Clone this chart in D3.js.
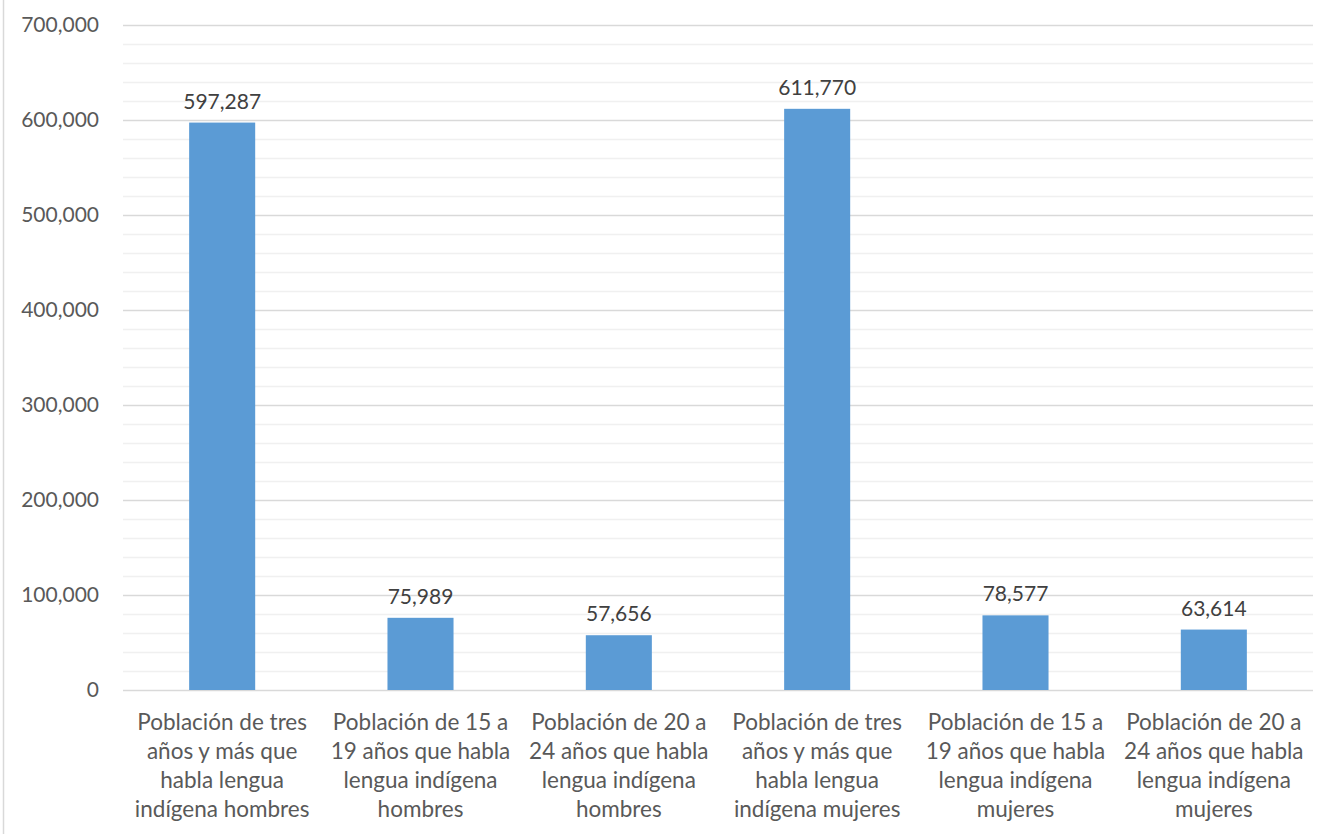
<!DOCTYPE html>
<html>
<head>
<meta charset="utf-8">
<script src="https://cdn.jsdelivr.net/npm/d3@7"></script>
<style>
  html, body { margin: 0; padding: 0; background: #fff; }
  svg { display: block; }
  text { font-family: Lato, "Open Sans", sans-serif; }
</style>
</head>
<body>
<svg id="chart" width="1326" height="834"></svg>
<script>
// Población que habla lengua indígena, por grupo de edad y sexo
const categories = [
  ["Población de tres", "años y más que", "habla lengua", "indígena hombres"],
  ["Población de 15 a", "19 años que habla", "lengua indígena", "hombres"],
  ["Población de 20 a", "24 años que habla", "lengua indígena", "hombres"],
  ["Población de tres", "años y más que", "habla lengua", "indígena mujeres"],
  ["Población de 15 a", "19 años que habla", "lengua indígena", "mujeres"],
  ["Población de 20 a", "24 años que habla", "lengua indígena", "mujeres"]
];
const values = [597287, 75989, 57656, 611770, 78577, 63614];
const majorTicks = [0, 100000, 200000, 300000, 400000, 500000, 600000, 700000];
const minorTicks = d3.range(0, 700001, 20000);

const svg = d3.select("#chart");
const W = 1326, H = 834;
const plot = { left: 123, right: 1313, top: 25, bottom: 690 };

const x = d3.scaleBand()
  .domain(d3.range(categories.length))
  .range([plot.left, plot.right])
  .paddingInner(0.667)
  .paddingOuter(0.3335);

const y = d3.scaleLinear()
  .domain([0, 700000])
  .range([plot.bottom, plot.top]);

const fmt = d3.format(",");

// chart frame line on the left
svg.append("line")
  .attr("x1", 3.5).attr("x2", 3.5)
  .attr("y1", 0).attr("y2", H)
  .attr("stroke", "#d9d9d9").attr("stroke-width", 1.5);

// minor gridlines
svg.append("g")
  .selectAll("line")
  .data(minorTicks.filter(v => v % 100000 !== 0))
  .join("line")
  .attr("x1", plot.left).attr("x2", plot.right)
  .attr("y1", d => Math.round(y(d)) + 0.5)
  .attr("y2", d => Math.round(y(d)) + 0.5)
  .attr("stroke", "#f0f0f0").attr("stroke-width", 1.5);

// major gridlines + y axis labels
const yAxis = d3.axisLeft(y)
  .tickValues(majorTicks)
  .tickFormat(d => fmt(d))
  .tickSize(-(plot.right - plot.left))
  .tickPadding(24);

const gy = svg.append("g")
  .attr("transform", `translate(${plot.left},0)`)
  .call(yAxis);
gy.select(".domain").remove();
gy.selectAll(".tick line")
  .attr("stroke", "#d9d9d9").attr("stroke-width", 1.5);
gy.selectAll(".tick text")
  .attr("fill", "#595959")
  .attr("font-size", 21)
  .attr("font-family", "Lato, 'Open Sans', sans-serif");

// bars
svg.append("g")
  .selectAll("rect")
  .data(values)
  .join("rect")
  .attr("x", (d, i) => x(i))
  .attr("width", x.bandwidth())
  .attr("y", d => y(d))
  .attr("height", d => y(0) - y(d))
  .attr("fill", "#5b9bd5");

// data labels
svg.append("g")
  .selectAll("text")
  .data(values)
  .join("text")
  .attr("x", (d, i) => x(i) + x.bandwidth() / 2)
  .attr("y", d => y(d) - 14)
  .attr("text-anchor", "middle")
  .attr("fill", "#404040")
  .attr("font-size", 21)
  .text(d => fmt(d));

// category labels
const catG = svg.append("g")
  .selectAll("text")
  .data(categories)
  .join("text")
  .attr("x", (d, i) => x(i) + x.bandwidth() / 2)
  .attr("y", 730)
  .attr("text-anchor", "middle")
  .attr("fill", "#595959")
  .attr("font-size", 22.5);
catG.selectAll("tspan")
  .data(d => d)
  .join("tspan")
  .attr("x", function () { return d3.select(this.parentNode).attr("x"); })
  .attr("dy", (d, i) => i === 0 ? 0 : 29)
  .text(d => d);
</script>
</body>
</html>
